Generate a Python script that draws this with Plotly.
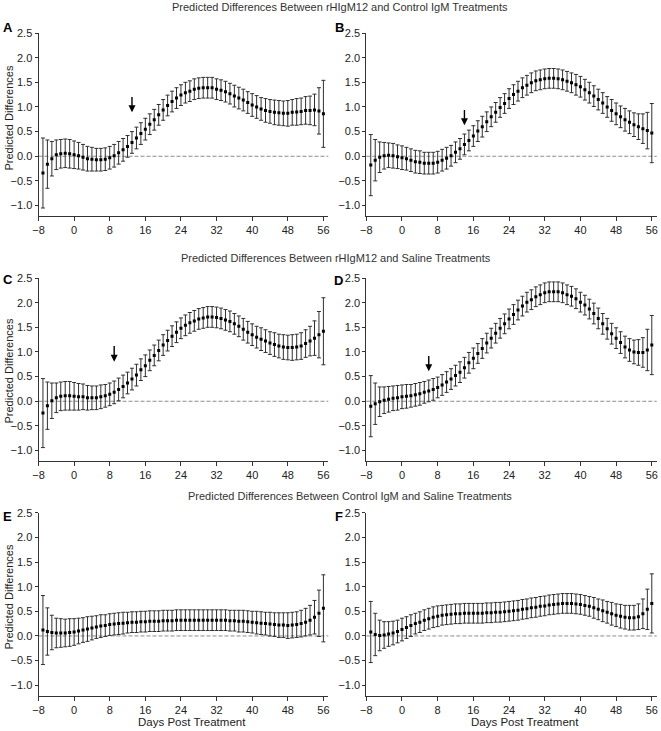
import plotly.graph_objects as go

# ---------------- data ----------------
days = list(range(-7, 57))
x_ticks = [-8, 0, 8, 16, 24, 32, 40, 48, 56]
y_ticks = [-1.0, -0.5, 0.0, 0.5, 1.0, 1.5, 2.0, 2.5]

section_titles = [
    "Predicted Differences Between rHIgM12 and Control IgM Treatments",
    "Predicted Differences Between rHIgM12 and Saline Treatments",
    "Predicted Differences Between Control IgM and Saline Treatments",
]
panel_letters = ["A", "B", "C", "D", "E", "F"]

mean_A = [-0.34, -0.16, -0.05, 0.03, 0.05, 0.06, 0.05, 0.03,
          0.01, -0.02, -0.05, -0.06, -0.07, -0.07, -0.06, -0.03,
          0.01, 0.07, 0.13, 0.20, 0.28, 0.37, 0.46, 0.55,
          0.65, 0.74, 0.84, 0.94, 1.03, 1.11, 1.18, 1.24,
          1.29, 1.32, 1.36, 1.38, 1.39, 1.39, 1.39, 1.36,
          1.34, 1.31, 1.27, 1.22, 1.18, 1.14, 1.09, 1.04,
          1.00, 0.96, 0.93, 0.91, 0.89, 0.88, 0.87, 0.87,
          0.89, 0.90, 0.91, 0.93, 0.93, 0.94, 0.92, 0.86]
err_A = [0.71, 0.49, 0.35, 0.30, 0.29, 0.29, 0.29, 0.28,
         0.27, 0.26, 0.25, 0.24, 0.23, 0.23, 0.23, 0.23,
         0.23, 0.23, 0.23, 0.22, 0.22, 0.22, 0.22, 0.22,
         0.21, 0.21, 0.21, 0.21, 0.21, 0.21, 0.21, 0.21,
         0.21, 0.21, 0.21, 0.21, 0.21, 0.21, 0.21, 0.21,
         0.21, 0.21, 0.21, 0.22, 0.22, 0.22, 0.22, 0.23,
         0.23, 0.23, 0.24, 0.24, 0.25, 0.25, 0.25, 0.26,
         0.26, 0.27, 0.27, 0.28, 0.29, 0.32, 0.47, 0.68]

mean_B = [-0.18, -0.08, -0.02, 0.01, 0.02, 0.01, -0.01, -0.03,
          -0.05, -0.08, -0.11, -0.12, -0.14, -0.14, -0.14, -0.12,
          -0.08, -0.04, 0.01, 0.08, 0.15, 0.24, 0.32, 0.41,
          0.51, 0.60, 0.70, 0.80, 0.89, 0.99, 1.07, 1.17,
          1.25, 1.32, 1.39, 1.44, 1.49, 1.53, 1.55, 1.57,
          1.58, 1.58, 1.57, 1.55, 1.52, 1.49, 1.45, 1.41,
          1.35, 1.29, 1.22, 1.15, 1.08, 1.00, 0.93, 0.86,
          0.80, 0.74, 0.69, 0.64, 0.60, 0.56, 0.52, 0.47]
err_B = [0.62, 0.42, 0.31, 0.27, 0.25, 0.25, 0.24, 0.24,
         0.23, 0.23, 0.23, 0.23, 0.22, 0.22, 0.22, 0.22,
         0.22, 0.22, 0.21, 0.21, 0.21, 0.21, 0.21, 0.21,
         0.21, 0.21, 0.20, 0.20, 0.20, 0.20, 0.20, 0.20,
         0.20, 0.20, 0.20, 0.20, 0.20, 0.20, 0.20, 0.20,
         0.20, 0.20, 0.20, 0.20, 0.20, 0.20, 0.21, 0.21,
         0.21, 0.21, 0.21, 0.21, 0.21, 0.21, 0.22, 0.22,
         0.22, 0.23, 0.23, 0.24, 0.26, 0.30, 0.37, 0.60]

mean_C = [-0.24, -0.09, 0.01, 0.07, 0.10, 0.11, 0.11, 0.10,
          0.09, 0.09, 0.07, 0.07, 0.07, 0.09, 0.11, 0.14,
          0.18, 0.24, 0.30, 0.37, 0.45, 0.53, 0.64, 0.72,
          0.83, 0.93, 1.03, 1.14, 1.23, 1.32, 1.40, 1.48,
          1.54, 1.59, 1.63, 1.67, 1.69, 1.71, 1.71, 1.70,
          1.68, 1.65, 1.62, 1.57, 1.52, 1.46, 1.40, 1.35,
          1.30, 1.26, 1.22, 1.18, 1.15, 1.12, 1.10, 1.09,
          1.09, 1.10, 1.12, 1.17, 1.22, 1.28, 1.35, 1.42]
err_C = [0.70, 0.48, 0.36, 0.30, 0.29, 0.29, 0.29, 0.28,
         0.27, 0.26, 0.25, 0.24, 0.24, 0.24, 0.23, 0.23,
         0.23, 0.23, 0.23, 0.22, 0.22, 0.22, 0.22, 0.22,
         0.21, 0.21, 0.21, 0.21, 0.21, 0.21, 0.21, 0.21,
         0.21, 0.21, 0.21, 0.21, 0.21, 0.21, 0.21, 0.21,
         0.21, 0.21, 0.21, 0.21, 0.21, 0.22, 0.22, 0.22,
         0.22, 0.23, 0.23, 0.23, 0.24, 0.24, 0.25, 0.25,
         0.26, 0.26, 0.27, 0.28, 0.30, 0.35, 0.47, 0.68]

mean_D = [-0.10, -0.05, -0.01, 0.02, 0.04, 0.06, 0.07, 0.09,
          0.10, 0.11, 0.13, 0.15, 0.18, 0.21, 0.24, 0.28,
          0.33, 0.39, 0.45, 0.52, 0.59, 0.68, 0.78, 0.87,
          0.97, 1.07, 1.18, 1.28, 1.38, 1.48, 1.57, 1.67,
          1.76, 1.85, 1.93, 2.01, 2.06, 2.12, 2.16, 2.20,
          2.22, 2.22, 2.22, 2.20, 2.16, 2.13, 2.08, 2.01,
          1.95, 1.87, 1.78, 1.68, 1.57, 1.47, 1.37, 1.28,
          1.19, 1.10, 1.04, 1.00, 0.99, 0.99, 1.04, 1.14]
err_D = [0.62, 0.42, 0.30, 0.27, 0.26, 0.25, 0.25, 0.24,
         0.24, 0.23, 0.23, 0.23, 0.22, 0.22, 0.22, 0.21,
         0.21, 0.21, 0.21, 0.21, 0.21, 0.21, 0.21, 0.21,
         0.20, 0.20, 0.20, 0.20, 0.20, 0.20, 0.20, 0.20,
         0.20, 0.20, 0.20, 0.20, 0.20, 0.20, 0.20, 0.20,
         0.20, 0.20, 0.20, 0.20, 0.20, 0.20, 0.20, 0.20,
         0.20, 0.20, 0.21, 0.21, 0.21, 0.21, 0.21, 0.21,
         0.22, 0.22, 0.23, 0.24, 0.26, 0.30, 0.42, 0.60]

mean_E = [0.12, 0.09, 0.07, 0.06, 0.06, 0.06, 0.07, 0.08,
          0.10, 0.12, 0.14, 0.16, 0.18, 0.20, 0.21, 0.23,
          0.24, 0.25, 0.26, 0.27, 0.28, 0.28, 0.29, 0.29,
          0.30, 0.30, 0.30, 0.31, 0.31, 0.31, 0.32, 0.32,
          0.32, 0.32, 0.32, 0.32, 0.32, 0.32, 0.32, 0.32,
          0.32, 0.32, 0.31, 0.31, 0.30, 0.30, 0.29, 0.28,
          0.27, 0.26, 0.25, 0.24, 0.23, 0.22, 0.22, 0.21,
          0.22, 0.23, 0.25, 0.28, 0.32, 0.38, 0.46, 0.56]
err_E = [0.70, 0.48, 0.35, 0.30, 0.29, 0.28, 0.28, 0.27,
         0.26, 0.25, 0.25, 0.24, 0.23, 0.23, 0.22, 0.22,
         0.22, 0.22, 0.22, 0.21, 0.21, 0.21, 0.21, 0.21,
         0.21, 0.21, 0.21, 0.21, 0.21, 0.21, 0.21, 0.21,
         0.21, 0.21, 0.21, 0.21, 0.21, 0.21, 0.21, 0.21,
         0.21, 0.21, 0.21, 0.21, 0.22, 0.22, 0.22, 0.22,
         0.23, 0.23, 0.23, 0.24, 0.24, 0.25, 0.25, 0.26,
         0.26, 0.26, 0.27, 0.28, 0.30, 0.34, 0.47, 0.68]

mean_F = [0.08, 0.03, 0.01, 0.02, 0.04, 0.06, 0.09, 0.13,
          0.17, 0.21, 0.25, 0.28, 0.32, 0.35, 0.38, 0.40,
          0.42, 0.43, 0.44, 0.45, 0.45, 0.46, 0.46, 0.46,
          0.46, 0.46, 0.47, 0.47, 0.48, 0.48, 0.49, 0.50,
          0.51, 0.52, 0.54, 0.55, 0.57, 0.58, 0.60, 0.61,
          0.63, 0.64, 0.65, 0.66, 0.66, 0.66, 0.65, 0.64,
          0.62, 0.60, 0.57, 0.54, 0.51, 0.48, 0.45, 0.42,
          0.40, 0.38, 0.37, 0.37, 0.39, 0.45, 0.54, 0.66]
err_F = [0.62, 0.43, 0.31, 0.27, 0.25, 0.24, 0.23, 0.23,
         0.22, 0.22, 0.21, 0.21, 0.21, 0.21, 0.21, 0.21,
         0.20, 0.20, 0.20, 0.20, 0.20, 0.20, 0.20, 0.20,
         0.20, 0.20, 0.20, 0.20, 0.20, 0.20, 0.20, 0.20,
         0.20, 0.20, 0.20, 0.20, 0.20, 0.20, 0.20, 0.20,
         0.20, 0.20, 0.20, 0.20, 0.20, 0.20, 0.20, 0.20,
         0.20, 0.20, 0.21, 0.21, 0.22, 0.22, 0.23, 0.23,
         0.24, 0.24, 0.25, 0.25, 0.26, 0.30, 0.41, 0.60]

# arrows (panels A-D): day, tip value, tail value
arrow_day = [13, 14, 9, 6]
arrow_tip = [0.89, 0.63, 0.80, 0.61]
arrow_tail = [1.23, 0.97, 1.15, 0.95]

means = [mean_A, mean_B, mean_C, mean_D, mean_E, mean_F]
errs = [err_A, err_B, err_C, err_D, err_E, err_F]

# ---------------- layout geometry (pixels) ----------------
W, H = 661, 731
col_px = [(38.5, 328.3), (366.3, 656.7)]
row_px = [(33.0, 215.9), (278.0, 460.9), (512.7, 695.6)]
X_RANGE = [-8, 57.1]
Y_RANGE = [-1.21, 2.5]

FONT = "Liberation Sans, Arial, sans-serif"
TXT = "#222222"
AX = "#333333"

fig = go.Figure()
layout = dict(
    width=W, height=H, margin=dict(l=0, r=0, t=0, b=0, autoexpand=False),
    paper_bgcolor="white", plot_bgcolor="white", showlegend=False,
    font=dict(family=FONT, size=11, color=TXT),
)
shapes = []
annotations = []

for i in range(6):
    r, c = divmod(i, 2)
    n = i + 1
    xa = "x" if n == 1 else f"x{n}"
    ya = "y" if n == 1 else f"y{n}"
    x0, x1 = col_px[c]
    top, bot = row_px[r]
    layout[f"xaxis{'' if n == 1 else n}"] = dict(
        domain=[x0 / W, x1 / W], range=X_RANGE, anchor=ya, automargin=False,
        tickmode="array", tickvals=x_ticks, ticks="outside", ticklen=4,
        tickwidth=1, tickcolor=AX, showline=True, linecolor=AX, linewidth=1,
        showgrid=False, zeroline=False,
        tickfont=dict(family=FONT, size=11, color=TXT),
    )
    layout[f"yaxis{'' if n == 1 else n}"] = dict(
        domain=[1 - bot / H, 1 - top / H], range=Y_RANGE, anchor=xa,
        automargin=False,
        tickmode="array", tickvals=y_ticks, tickformat=".1f",
        ticks="outside", ticklen=3, tickwidth=1, tickcolor=AX,
        showline=True, linecolor=AX, linewidth=1,
        showgrid=False, zeroline=False,
        tickfont=dict(family=FONT, size=11, color=TXT),
    )
    # dashed zero reference line
    shapes.append(dict(
        type="line", xref=f"{xa} domain", yref=ya, x0=0, x1=1, y0=0, y1=0,
        line=dict(color="#8c8c8c", width=1, dash="4px,2px"), layer="below",
    ))
    fig.add_trace(go.Scatter(
        x=days, y=means[i], xaxis=xa, yaxis=ya, mode="markers",
        marker=dict(symbol="square", size=3, color="black"),
        error_y=dict(type="data", array=errs[i], visible=True,
                     color="#2f2f2f", thickness=1, width=2),
        hoverinfo="skip",
    ))
    if i < 4:
        annotations.append(dict(
            x=arrow_day[i], y=arrow_tip[i], ax=arrow_day[i], ay=arrow_tail[i],
            xref=xa, yref=ya, axref=xa, ayref=ya, showarrow=True, text="",
            arrowhead=2, arrowsize=1, arrowwidth=1.4, arrowcolor="black",
            standoff=0,
        ))

# panel letters
letter_pos = [(7.5, 27.5), (339.5, 27.5), (8, 279), (338.5, 280.5), (7, 516), (339, 516)]
for (px, py), lab in zip(letter_pos, panel_letters):
    annotations.append(dict(
        x=px / W, y=1 - py / H, xref="paper", yref="paper", text=f"<b>{lab}</b>",
        showarrow=False, xanchor="center", yanchor="middle",
        font=dict(family=FONT, size=13, color="black"),
    ))

# section titles
title_pos = [(340, 7), (336, 258), (350, 496)]
for (px, py), t in zip(title_pos, section_titles):
    annotations.append(dict(
        x=px / W, y=1 - py / H, xref="paper", yref="paper", text=t,
        showarrow=False, xanchor="center", yanchor="middle",
        font=dict(family=FONT, size=11, color="#333333"),
    ))

# y-axis titles (left column)
for py in [118, 371, 597]:
    annotations.append(dict(
        x=8.5 / W, y=1 - py / H, xref="paper", yref="paper",
        text="Predicted Differences", textangle=-90, showarrow=False,
        xanchor="center", yanchor="middle",
        font=dict(family=FONT, size=11, color=TXT),
    ))

# x-axis titles (bottom row)
for px in [192, 525]:
    annotations.append(dict(
        x=px / W, y=1 - 722 / H, xref="paper", yref="paper",
        text="Days Post Treatment", showarrow=False,
        xanchor="center", yanchor="middle",
        font=dict(family=FONT, size=11.5, color=TXT),
    ))

layout["shapes"] = shapes
layout["annotations"] = annotations
fig.update_layout(**layout)
fig.write_html(
    "out.html",
    config={"displayModeBar": False, "staticPlot": True},
    post_script="document.body.style.margin='0';document.body.style.padding='0';"
                "document.body.style.overflow='hidden';",
)
